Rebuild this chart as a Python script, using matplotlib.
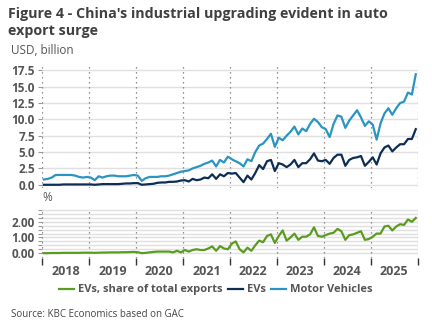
import numpy as np
import matplotlib
matplotlib.use("Agg")
from matplotlib import pyplot as plt

plt.rcParams['font.family'] = ['Open Sans', 'DejaVu Sans']

# monthly data, Jan 2018 - Dec 2025
motor_vehicles = [
    0.8, 0.9, 1.1, 1.5, 1.5, 1.5, 1.5, 1.5, 1.4, 1.2, 1.1, 1.2,
    1.1, 0.7, 1.3, 1.1, 1.3, 1.4, 1.4, 1.3, 1.3, 1.3, 1.4, 1.5,
    1.4, 0.6, 1.0, 1.2, 1.2, 1.2, 1.3, 1.3, 1.4, 1.6, 1.8, 2.0,
    2.1, 2.2, 2.5, 2.7, 2.9, 3.2, 3.4, 3.7, 2.8, 3.8, 3.4, 4.3,
    3.9, 3.6, 3.3, 2.8, 3.9, 3.6, 5.0, 6.0, 6.3, 7.0, 7.8, 5.8,
    7.2, 6.8, 7.5, 8.1, 8.9, 7.7, 8.6, 8.2, 9.3, 10.1, 9.6, 8.8,
    8.5, 7.3, 9.3, 10.6, 10.4, 8.7, 9.8, 10.6, 11.4, 10.3, 9.0, 9.7,
    9.2, 6.9, 9.4, 10.9, 11.7, 10.7, 11.7, 12.5, 12.7, 14.1, 13.8, 16.9,
]
evs = [
    0.0, 0.0, 0.0, 0.0, 0.0, 0.05, 0.05, 0.05, 0.05, 0.05, 0.05, 0.05,
    0.05, 0.0, 0.05, 0.1, 0.1, 0.1, 0.1, 0.1, 0.15, 0.2, 0.2, 0.25,
    0.25, 0.0, 0.05, 0.1, 0.15, 0.3, 0.35, 0.35, 0.45, 0.45, 0.5, 0.65,
    0.7, 0.5, 0.9, 0.7, 0.8, 1.1, 1.0, 1.6, 0.9, 1.6, 1.3, 1.8,
    1.7, 1.8, 1.1, 0.4, 1.4, 0.8, 1.8, 3.0, 2.4, 3.6, 3.8, 2.1,
    3.3, 3.1, 2.7, 3.1, 3.8, 2.7, 3.3, 3.3, 3.9, 4.8, 3.7, 3.6,
    3.8, 3.2, 4.1, 4.6, 4.6, 2.9, 3.8, 4.1, 4.2, 4.4, 2.9, 3.5,
    4.2, 3.1, 4.8, 5.7, 6.0, 5.1, 5.7, 6.2, 6.2, 7.0, 7.0, 8.5,
]
ev_share = [
    0.0, 0.0, 0.01, 0.01, 0.01, 0.02, 0.02, 0.02, 0.02, 0.02, 0.03, 0.03,
    0.03, 0.02, 0.03, 0.04, 0.04, 0.05, 0.05, 0.05, 0.06, 0.06, 0.07, 0.08,
    0.06, 0.0, 0.02, 0.05, 0.08, 0.1, 0.1, 0.1, 0.1, 0.05, 0.15, 0.05,
    0.2, 0.1, 0.2, 0.25, 0.2, 0.2, 0.3, 0.43, 0.15, 0.45, 0.3, 0.25,
    0.6, 0.75, 0.25, 0.05, 0.35, 0.15, 0.5, 0.8, 0.7, 1.1, 1.2, 0.65,
    1.1, 1.45, 0.8, 1.0, 1.25, 0.85, 1.05, 1.05, 1.2, 1.65, 1.1, 1.05,
    1.15, 1.25, 1.3, 1.55, 1.4, 0.85, 1.15, 1.2, 1.3, 1.4, 0.85, 0.9,
    1.05, 1.25, 1.25, 1.7, 1.75, 1.45, 1.7, 1.85, 1.8, 2.15, 2.0, 2.25,
]
years = [2018, 2019, 2020, 2021, 2022, 2023, 2024, 2025]

t = 2018 + (np.arange(len(motor_vehicles)) + 0.5) / 12

c_mv = '#2b94c3'
c_ev = '#0e2d55'
c_share = '#5b9b20'
c_txt = '#555555'
c_grid = '#e0e0e0'

fig = plt.figure(figsize=(4.32, 3.34), dpi=100)
ax1 = fig.add_axes([0.097, 0.437, 0.870, 0.374])
ax2 = fig.add_axes([0.097, 0.228, 0.870, 0.150])

for ax in (ax1, ax2):
    ax.set_xlim(2018, 2026)
    for s in ax.spines.values():
        s.set_visible(False)
    for yr in range(2018, 2027):
        ax.axvline(yr, color='#6f6f6f', lw=0.9, ls=(0, (1, 3)), zorder=1)
    ax.tick_params(axis='y', length=3, width=0.8, color='#999999',
                   labelsize=8.5, labelcolor=c_txt, pad=2)

# top panel
ax1.plot(t, motor_vehicles, color=c_mv, lw=1.6, zorder=3)
ax1.plot(t, evs, color=c_ev, lw=1.6, zorder=3)
ax1.set_ylim(-0.5, 18.6)
ax1.set_yticks(np.arange(0, 17.6, 2.5))
ax1.set_yticklabels([f"{v:.1f}" for v in np.arange(0, 17.6, 2.5)], fontweight='bold')
for v in np.arange(0, 17.6, 2.5):
    ax1.axhline(v, color=c_grid, lw=1, zorder=0)
ax1.set_xticks([])

# bottom panel
ax2.plot(t, ev_share, color=c_share, lw=1.6, zorder=3)
ax2.set_ylim(-0.3, 2.9)
ax2.set_yticks([0, 1, 2])
ax2.set_yticklabels(["0.00", "1.00", "2.00"], fontweight='bold')
ax2.set_yticks(np.arange(0, 2.76, 0.25), minor=True)
ax2.tick_params(axis='y', which='minor', length=3, width=0.8, color='#999999')
for v in np.arange(0, 2.76, 0.25):
    ax2.axhline(v, color=c_grid, lw=1, zorder=0)
ax2.set_xticks(range(2018, 2027))
ax2.set_xticklabels([])
ax2.set_xticks([y + 0.5 for y in years], minor=True)
ax2.set_xticklabels([str(y) for y in years], minor=True, fontweight='bold')
ax2.tick_params(axis='x', which='major', length=5, width=1, color='#333333')
ax2.tick_params(axis='x', which='minor', length=0, labelsize=9, labelcolor=c_txt, pad=5)

fig.text(0.019, 0.978, "Figure 4 - China's industrial upgrading evident in auto\nexport surge",
         fontsize=10.3, fontweight='bold', color='#404040', va='top', linespacing=1.2)
fig.text(0.026, 0.848, "USD, billion", fontsize=8.5, color=c_txt, va='center')
fig.text(0.097, 0.41, "%", fontsize=8.5, color=c_txt, va='center')
fig.text(0.026, 0.057, "Source: KBC Economics based on GAC", fontsize=7, color='#444444', va='center')

handles = [plt.Line2D([], [], color=c, lw=1.6) for c in (c_share, c_ev, c_mv)]
leg = fig.legend(handles, ["EVs, share of total exports", "EVs", "Motor Vehicles"],
                 loc='center', bbox_to_anchor=(0.5, 0.132), ncol=3, frameon=False,
                 handlelength=1.3, handletextpad=0.4, columnspacing=0.5,
                 prop={'size': 8, 'weight': 'bold'})
for txt in leg.get_texts():
    txt.set_color(c_txt)

fig.savefig("out.png", dpi=100)
